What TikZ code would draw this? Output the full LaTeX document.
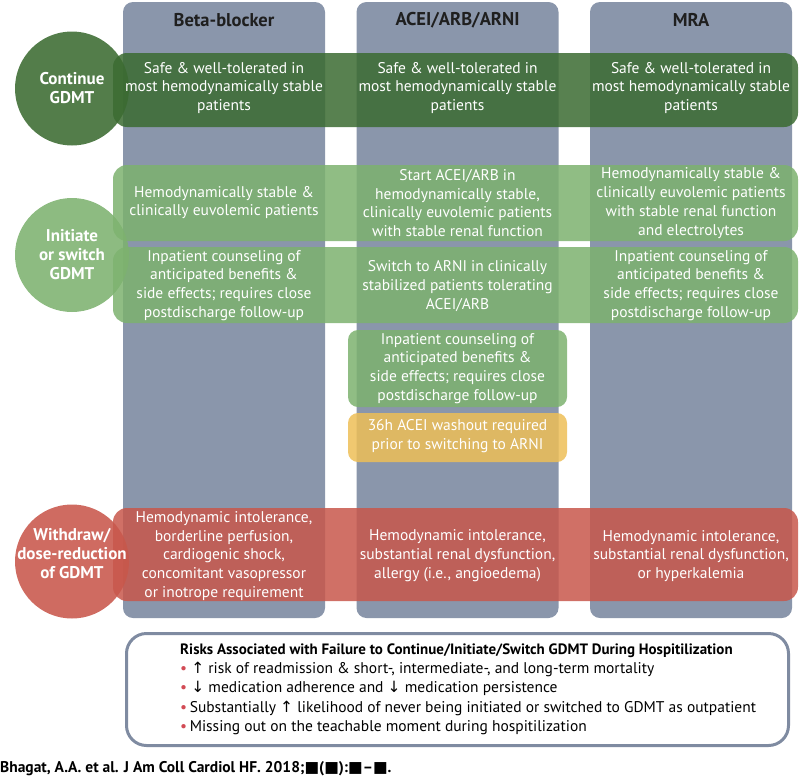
\documentclass[tikz,border=0pt]{standalone}
\usepackage{fontspec}
\setmainfont{PT Sans}
\newfontfamily\symbolfont{DejaVu Sans}
\usetikzlibrary{positioning}
\definecolor{columngray}{HTML}{8A96AB}
\definecolor{darkgreen}{HTML}{3B6B31}
\definecolor{lightgreen}{HTML}{7DB26F}
\definecolor{brickred}{HTML}{C8574B}
\definecolor{amber}{HTML}{EDBE57}
\definecolor{framegray}{HTML}{7F8BA1}
\definecolor{dotred}{HTML}{D24B55}
\newcommand*\arrowup{{\symbolfont\char"2191}}
\newcommand*\arrowdown{{\symbolfont\char"2193}}
\newcommand*\blacksq{{\symbolfont\char"25A0}}
\newcommand*\riskdot{\textcolor{dotred}{\textbullet}}

\begin{document}
\begin{tikzpicture}[x=1pt,y=-1pt,
	column/.style={shape=rectangle,fill=columngray,rounded corners=10pt,minimum width=202pt,minimum height=616pt,inner sep=0pt},
	header/.style={font=\bfseries\fontsize{18.5}{20}\selectfont,text=black!88},
	band/.style={shape=rectangle,rounded corners=14pt,minimum width=685pt,fill opacity=0.85,inner sep=0pt},
	stage/.style={shape=circle,minimum size=114pt,fill opacity=0.88,inner sep=0pt},
	stagetext/.style={text=white,font=\bfseries\fontsize{17}{19}\selectfont,align=center},
	cell/.style={text=white,align=center,font=\fontsize{15.5}{18.8}\selectfont}]
	\useasboundingbox (0,0) rectangle (800,779);

	% drug columns
	\node (betacol) [column] at (224,310) {};
	\node (aceicol) [column] at (457.5,310) {};
	\node (mracol) [column] at (691,310) {};
	\node (betahead) [header] at (224,20) {Beta-blocker};
	\node (aceihead) [header] at (457.5,20) {ACEI/ARB/ARNI};
	\node (mrahead) [header] at (691,20) {MRA};

	% bands
	\node (continueband) [band,fill=darkgreen,minimum height=74pt] at (455.5,90) {};
	\node (initiateupper) [band,fill=lightgreen,minimum height=76pt] at (455.5,203) {};
	\node (initiatelower) [band,fill=lightgreen,minimum height=76pt] at (455.5,285) {};
	\node (counselbox) [band,fill=lightgreen,minimum width=219pt,minimum height=77pt,rounded corners=10pt] at (457.5,368.5) {};
	\node (washoutbox) [band,fill=amber,minimum width=219pt,minimum height=49pt,rounded corners=10pt] at (457.5,437.5) {};
	\node (withdrawband) [band,fill=brickred,minimum height=93pt] at (455.5,554.5) {};

	% stages
	\node (continuedot) [stage,fill=darkgreen] at (72,88.5) {};
	\node (initiatedot) [stage,fill=lightgreen] at (72,255) {};
	\node (withdrawdot) [stage,fill=brickred] at (72,561.5) {};
	\node (continuetext) [stagetext] at (continuedot) {Continue\\GDMT};
	\node (initiatetext) [stagetext] at (initiatedot) {Initiate\\or switch\\GDMT};
	\node (withdrawtext) [stagetext] at (72,554) {Withdraw/\\dose-reduction\\of GDMT};

	% continue
	\node (betacont) [cell] at (224,88) {Safe \& well-tolerated in\\most hemodynamically stable\\patients};
	\node (aceicont) [cell] at (457.5,88) {Safe \& well-tolerated in\\most hemodynamically stable\\patients};
	\node (mracont) [cell] at (691,88) {Safe \& well-tolerated in\\most hemodynamically stable\\patients};

	% initiate or switch
	\node (betastart) [cell] at (224,202.5) {Hemodynamically stable \&\\clinically euvolemic patients};
	\node (aceistart) [cell] at (457.5,203) {Start ACEI/ARB in\\hemodynamically stable,\\clinically euvolemic patients\\with stable renal function};
	\node (mrastart) [cell] at (691,203) {Hemodynamically stable \&\\clinically euvolemic patients\\with stable renal function\\and electrolytes};
	\node (betacounsel) [cell] at (224,285.5) {Inpatient counseling of\\anticipated benefits \&\\side effects; requires close\\postdischarge follow-up};
	\node (aceiswitch) [cell] at (457.5,286) {Switch to ARNI in clinically\\stabilized patients tolerating\\ACEI/ARB};
	\node (mracounsel) [cell] at (691,285.5) {Inpatient counseling of\\anticipated benefits \&\\side effects; requires close\\postdischarge follow-up};
	\node (aceicounsel) [cell] at (counselbox) {Inpatient counseling of\\anticipated benefits \&\\side effects; requires close\\postdischarge follow-up};
	\node (aceiwashout) [cell] at (457.5,436) {36h ACEI washout required\\prior to switching to ARNI};

	% withdraw
	\node (betastop) [cell] at (224,556) {Hemodynamic intolerance,\\borderline perfusion,\\cardiogenic shock,\\concomitant vasopressor\\or inotrope requirement};
	\node (aceistop) [cell] at (457.5,556) {Hemodynamic intolerance,\\substantial renal dysfunction,\\allergy (i.e., angioedema)};
	\node (mrastop) [cell] at (691,556) {Hemodynamic intolerance,\\substantial renal dysfunction,\\or hyperkalemia};

	% risks
	\node (riskbox) [shape=rectangle,draw=framegray,line width=3pt,rounded corners=20pt,minimum width=662pt,minimum height=112pt] at (457.5,689.5) {};
	\node (risktext) [anchor=west,align=left,inner sep=0pt,font=\fontsize{15.5}{19.3}\selectfont] at (180,689) {%
		{\bfseries\fontsize{15}{19.3}\selectfont Risks Associated with Failure to Continue/Initiate/Switch GDMT During Hospitilization}\\
		\riskdot\ \arrowup\ risk of readmission \& short-, intermediate-, and long-term mortality\\
		\riskdot\ \arrowdown\ medication adherence and \arrowdown\ medication persistence\\
		\riskdot\,Substantially \arrowup\ likelihood of never being initiated or switched to GDMT as outpatient\\
		\riskdot\,Missing out on the teachable moment during hospitilization};

	\node (citation) [anchor=west,inner sep=0pt,font=\bfseries\fontsize{15.5}{17}\selectfont] at (0,769) {Bhagat, A.A. et al. J Am Coll Cardiol HF. 2018;\blacksq(\blacksq):\blacksq--\blacksq.};
\end{tikzpicture}
\end{document}
